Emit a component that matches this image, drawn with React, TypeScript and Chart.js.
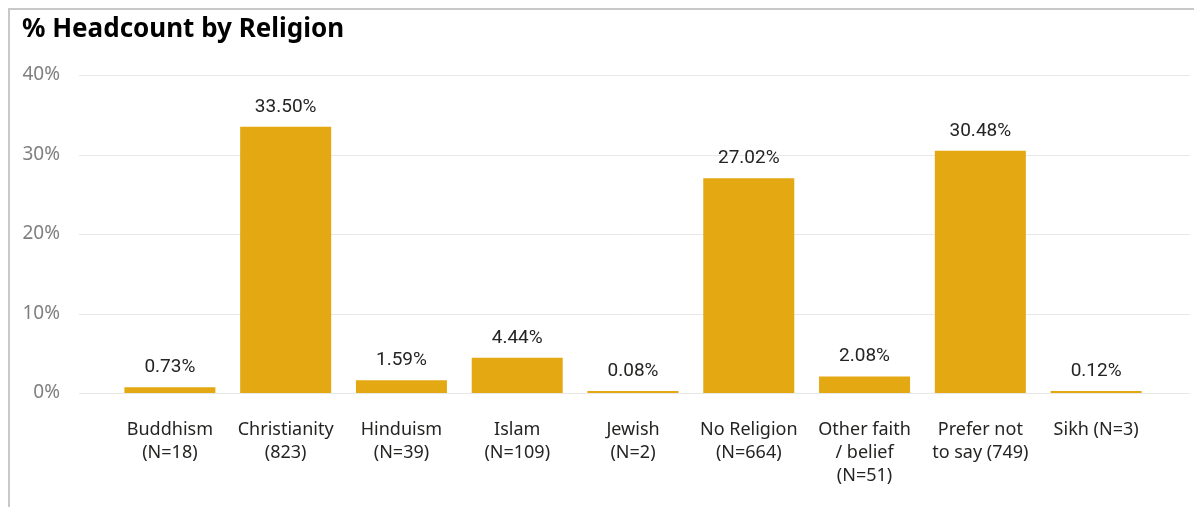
import { useEffect, useRef } from "react";
import { Chart, registerables } from "chart.js";

Chart.register(...registerables);

const categories: string[][] = [
  ["Buddhism", "(N=18)"],
  ["Christianity", "(823)"],
  ["Hinduism", "(N=39)"],
  ["Islam", "(N=109)"],
  ["Jewish", "(N=2)"],
  ["No Religion", "(N=664)"],
  ["Other faith", "/ belief", "(N=51)"],
  ["Prefer not", "to say (749)"],
  ["Sikh (N=3)"],
];
const values: number[] = [0.73, 33.5, 1.59, 4.44, 0.08, 27.02, 2.08, 30.48, 0.12];
const yTickValues: number[] = [0, 10, 20, 30, 40];
const titleText = "% Headcount by Religion";

const BAR_COLOR = "#E3A812";

const gridPlugin = {
  id: "wideGrid",
  beforeDatasetsDraw(chart: any) {
    const { ctx, chartArea, scales } = chart;
    const y = scales.y;
    ctx.save();
    ctx.strokeStyle = "#E8E8E8";
    ctx.lineWidth = 1;
    yTickValues.forEach((v) => {
      const py = Math.round(y.getPixelForValue(v)) + 0.5;
      ctx.beginPath();
      ctx.moveTo(chartArea.left - 33, py);
      ctx.lineTo(chartArea.right + 36, py);
      ctx.stroke();
    });
    ctx.restore();
  },
};

const valueLabelPlugin = {
  id: "valueLabels",
  afterDatasetsDraw(chart: any) {
    const { ctx } = chart;
    const meta = chart.getDatasetMeta(0);
    ctx.save();
    ctx.fillStyle = "#252423";
    ctx.font = "19px Roboto, 'Noto Sans', sans-serif";
    ctx.textAlign = "center";
    ctx.textBaseline = "alphabetic";
    meta.data.forEach((bar: any, i: number) => {
      ctx.fillText(values[i].toFixed(2) + "%", bar.x, bar.y - 15);
    });
    ctx.restore();
  },
};

export default function App() {
  const canvasRef = useRef<HTMLCanvasElement | null>(null);

  useEffect(() => {
    if (!canvasRef.current) return;
    const chart = new Chart(canvasRef.current, {
      type: "bar",
      data: {
        labels: categories,
        datasets: [
          {
            data: values,
            backgroundColor: BAR_COLOR,
            borderWidth: 0,
            categoryPercentage: 1,
            barPercentage: 0.786,
            minBarLength: 2,
          },
        ],
      },
      options: {
        responsive: false,
        animation: false,
        layout: { padding: { left: 22, right: 40, top: 14, bottom: 0 } },
        plugins: {
          legend: { display: false },
          tooltip: { enabled: false },
          title: {
            display: true,
            text: titleText,
            align: "start",
            color: "#000000",
            font: { family: "'Segoe UI', 'Noto Sans', sans-serif", size: 26, weight: "bold" },
            padding: { top: 0, bottom: 29.8 },
          },
        },
        scales: {
          x: {
            afterFit(scale: any) {
              scale.height = 114;
            },
            grid: { display: false, drawTicks: false },
            border: { display: false },
            ticks: {
              color: "#252423",
              font: { family: "'Segoe UI', 'Noto Sans', sans-serif", size: 18, lineHeight: 1.28 },
              padding: 25.5,
              maxRotation: 0,
              autoSkip: false,
            },
          },
          y: {
            min: 0,
            max: 40,
            afterBuildTicks(scale: any) {
              scale.ticks = yTickValues.map((v) => ({ value: v }));
            },
            afterFit(scale: any) {
              scale.width = 90;
            },
            grid: { display: false, drawTicks: false },
            border: { display: false },
            ticks: {
              color: "#7F7F7F",
              font: { family: "'Segoe UI', 'Noto Sans', sans-serif", size: 19 },
              padding: 52,
              callback: (v: any) => v + "%",
            },
          },
        },
      },
      plugins: [gridPlugin, valueLabelPlugin],
    });
    return () => chart.destroy();
  }, []);

  return (
    <div style={{ position: "absolute", left: 0, top: 0, width: 1194, height: 507, background: "#ffffff", overflow: "hidden" }}>
      <div
        style={{
          position: "absolute",
          left: 8,
          top: 8,
          width: 1300,
          height: 600,
          borderTop: "2px solid #C8C8C8",
          borderLeft: "2px solid #C8C8C8",
          boxSizing: "border-box",
        }}
      />
      <canvas ref={canvasRef} width={1194} height={507} style={{ position: "absolute", left: 0, top: 0 }} />
    </div>
  );
}
